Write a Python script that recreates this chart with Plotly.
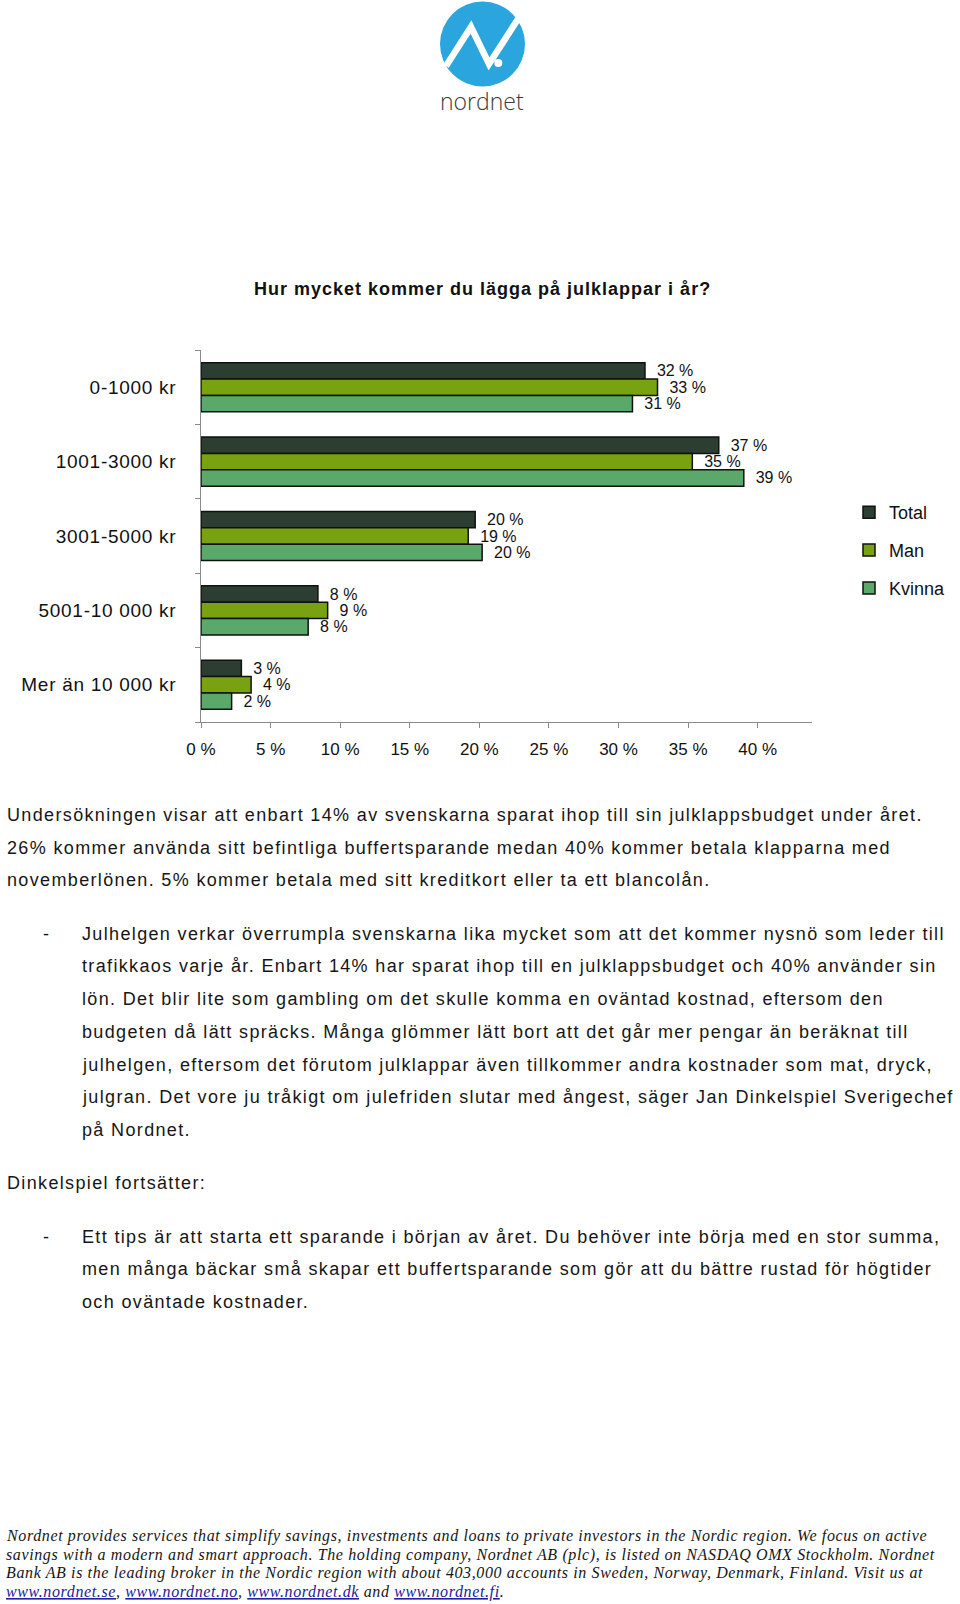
import plotly.graph_objects as go

W, H = 960, 1604

# ---------------- chart data ----------------
categories = ["0-1000 kr", "1001-3000 kr", "3001-5000 kr", "5001-10 000 kr", "Mer än 10 000 kr"]
series_names = ["Total", "Man", "Kvinna"]
total = [31.9, 37.2, 19.7, 8.4, 2.9]
man = [32.8, 35.3, 19.2, 9.1, 3.6]
kvinna = [31.0, 39.0, 20.2, 7.7, 2.2]
colors = ["#2c3e32", "#78a20f", "#5aa96b"]
title_text = "Hur mycket kommer du lägga på julklappar i år?"

# ---------------- page text ----------------
body_lines = [
    (5, 815.5, "Undersökningen visar att enbart 14% av svenskarna sparat ihop till sin julklappsbudget under året."),
    (5, 847.5, "26% kommer använda sitt befintliga buffertsparande medan 40% kommer betala klapparna med"),
    (5, 879.5, "novemberlönen. 5% kommer betala med sitt kreditkort eller ta ett blancolån."),
    (80, 933.5, "Julhelgen verkar överrumpla svenskarna lika mycket som att det kommer nysnö som leder till"),
    (80, 966, "trafikkaos varje år. Enbart 14% har sparat ihop till en julklappsbudget och 40% använder sin"),
    (80, 999, "lön. Det blir lite som gambling om det skulle komma en oväntad kostnad, eftersom den"),
    (80, 1031.5, "budgeten då lätt spräcks. Många glömmer lätt bort att det går mer pengar än beräknat till"),
    (80, 1064.5, "julhelgen, eftersom det förutom julklappar även tillkommer andra kostnader som mat, dryck,"),
    (80, 1097, "julgran. Det vore ju tråkigt om julefriden slutar med ångest, säger Jan Dinkelspiel Sverigechef"),
    (80, 1130, "på Nordnet."),
    (5, 1183, "Dinkelspiel fortsätter:"),
    (80, 1236.5, "Ett tips är att starta ett sparande i början av året. Du behöver inte börja med en stor summa,"),
    (80, 1269, "men många bäckar små skapar ett buffertsparande som gör att du bättre rustad för högtider"),
    (80, 1302, "och oväntade kostnader."),
]
dash_rows = [933.5, 1236.5]

link = "<span style='color:#2020a0;text-decoration:underline'>{}</span>"
footer_lines = [
    (1536, "Nordnet provides services that simplify savings, investments and loans to private investors in the Nordic region. We focus on active"),
    (1554.5, "savings with a modern and smart approach. The holding company, Nordnet AB (plc), is listed on NASDAQ OMX Stockholm. Nordnet"),
    (1573, "Bank AB is the leading broker in the Nordic region with about 403,000 accounts in Sweden, Norway, Denmark, Finland. Visit us at"),
    (1591.5, link.format("www.nordnet.se") + ", " + link.format("www.nordnet.no") + ", "
     + link.format("www.nordnet.dk") + " and " + link.format("www.nordnet.fi") + "."),
]


def fx(px):
    return px / W


def fy(py):
    return 1 - py / H


def tracked(t, sp):
    return f"<span style='letter-spacing:{sp}px'>{t}</span>"


SANS = "Liberation Sans, Arial, sans-serif"

fig = go.Figure()
for name, vals, col in zip(series_names, [total, man, kvinna], colors):
    fig.add_trace(go.Bar(
        y=categories, x=vals, name=name, orientation="h",
        marker=dict(color=col, line=dict(color="#111111", width=1.5)),
        texttemplate="\u00a0\u00a0%{x:.0f} %", textposition="outside",
        textfont=dict(family=SANS, size=16, color="#111111"),
        constraintext="none", cliponaxis=False, legendgroup=name,
        hoverinfo="skip",
    ))

fig.update_layout(
    width=W, height=H,
    margin=dict(l=0, r=0, t=0, b=0, autoexpand=False),
    paper_bgcolor="white", plot_bgcolor="white",
    barmode="group", bargap=0.34, bargroupgap=0,
    font=dict(family=SANS, color="#111111"),
    legend=dict(
        x=fx(849), y=fy(494), xanchor="left", yanchor="top",
        font=dict(family=SANS, size=18, color="#111111"),
        tracegroupgap=11.5, bgcolor="rgba(0,0,0,0)",
    ),
    xaxis=dict(
        domain=[fx(201), fx(812)], range=[0, 43.9],
        tickmode="linear", tick0=0, dtick=5, ticksuffix=" %",
        showgrid=False, zeroline=False,
        showline=True, linecolor="#8a8a8a", linewidth=1,
        ticks="outside", ticklen=5, tickcolor="#8a8a8a",
        tickfont=dict(family=SANS, size=17, color="#111111"),
        ticklabelstandoff=7,
    ),
    yaxis=dict(
        domain=[fy(722), fy(350)], autorange="reversed",
        tickmode="array", tickvals=categories,
        ticktext=[tracked(c, 0.7) for c in categories],
        showgrid=False, zeroline=False,
        showline=True, linecolor="#8a8a8a", linewidth=1,
        ticks="outside", ticklen=5, tickcolor="#8a8a8a", tickson="boundaries",
        tickfont=dict(family=SANS, size=19, color="#111111"),
        ticklabelstandoff=20,
    ),
)

ann = []
ann.append(dict(x=fx(482), y=fy(289), xref="paper", yref="paper",
                text="<b>" + tracked(title_text, 1.0) + "</b>",
                showarrow=False, xanchor="center", yanchor="middle",
                font=dict(family=SANS, size=18, color="#111111")))
for x, y, t in body_lines:
    ann.append(dict(x=fx(x), y=fy(y), xref="paper", yref="paper", text=tracked(t, 1.35), showarrow=False,
                    xanchor="left", yanchor="middle", font=dict(family=SANS, size=18, color="#161616")))
for y in dash_rows:
    ann.append(dict(x=fx(41), y=fy(y), xref="paper", yref="paper", text="-", showarrow=False,
                    xanchor="left", yanchor="middle", font=dict(family=SANS, size=18, color="#161616")))
for y, t in footer_lines:
    ann.append(dict(x=fx(4), y=fy(y), xref="paper", yref="paper", text="<i>" + tracked(t, 0.62) + "</i>",
                    showarrow=False, xanchor="left", yanchor="middle",
                    font=dict(family="Liberation Serif, Times New Roman, serif", size=16, color="#161616")))
# logo word mark
ann.append(dict(x=fx(481.5), y=fy(101), xref="paper", yref="paper", text="nordnet", showarrow=False,
                xanchor="center", yanchor="middle",
                font=dict(family="Open Sans, sans-serif", size=23, color="#3b3b3b", weight=300)))
fig.update_layout(annotations=ann)

# logo circle, stroke and dot
fig.add_shape(type="circle", xref="paper", yref="paper",
              x0=fx(440), x1=fx(525), y0=fy(86.5), y1=fy(1.5),
              fillcolor="#2aa5de", line=dict(width=0))
pts = [(446, 66), (471, 27), (489, 64), (518, 19)]
path = "M " + " L ".join(f"{fx(a):.5f},{fy(b):.5f}" for a, b in pts)
fig.add_shape(type="path", xref="paper", yref="paper", path=path,
              line=dict(color="white", width=6.5))
fig.add_shape(type="circle", xref="paper", yref="paper",
              x0=fx(494.3), x1=fx(502.3), y0=fy(67), y1=fy(59),
              fillcolor="white", line=dict(width=0))

fig.write_html("out.html", config={"displayModeBar": False},
               post_script="document.body.style.margin='0';")
